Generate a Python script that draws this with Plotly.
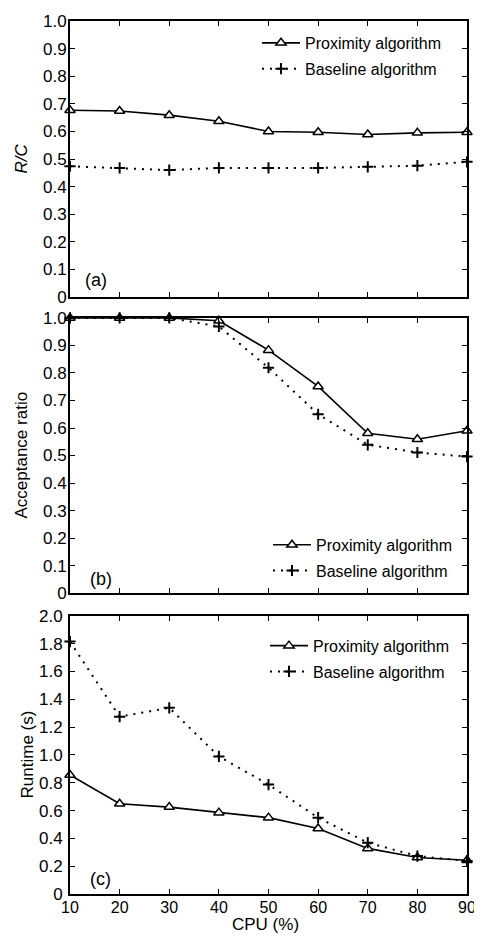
import plotly.graph_objects as go

cpu = [10, 20, 30, 40, 50, 60, 70, 80, 90]

rc_proximity = [0.677, 0.674, 0.659, 0.637, 0.600, 0.597, 0.589, 0.595, 0.597]
rc_baseline = [0.474, 0.468, 0.460, 0.468, 0.468, 0.468, 0.472, 0.476, 0.490]

acc_proximity = [1.0, 1.0, 1.0, 0.99, 0.883, 0.751, 0.581, 0.559, 0.590]
acc_baseline = [1.0, 1.0, 1.0, 0.969, 0.819, 0.650, 0.539, 0.511, 0.496]

rt_proximity = [0.856, 0.649, 0.625, 0.585, 0.549, 0.471, 0.328, 0.262, 0.243]
rt_baseline = [1.815, 1.275, 1.339, 0.989, 0.787, 0.549, 0.369, 0.273, 0.238]

names = ["Proximity algorithm", "Baseline algorithm"]
panel_labels = ["(a)", "(b)", "(c)"]
y_titles = ["<i>R/C</i>", "Acceptance ratio", "Runtime (s)"]
x_title = "CPU (%)"

FONT = "Liberation Sans, Arial, sans-serif"

# page offset of the figure inside the window (screen px)
OFFX, OFFY = 8, 12
W, H = 482, 943
PL, PR, PT, PB = 70, 467, 16, 898  # plot area in screen px

fig = go.Figure()

panels = [
    (rc_proximity, rc_baseline, "x", "y", "legend"),
    (acc_proximity, acc_baseline, "x2", "y2", "legend2"),
    (rt_proximity, rt_baseline, "x3", "y3", "legend3"),
]

for i, (prox, base, xa, ya, lg) in enumerate(panels):
    fig.add_trace(go.Scatter(
        x=cpu, y=prox, name=names[0], xaxis=xa, yaxis=ya, legend=lg,
        legendgroup=f"p{i}", mode="lines+markers",
        line=dict(color="black", width=1.6),
        marker=dict(symbol="triangle-up", size=9, color="white",
                    line=dict(color="black", width=1.5)),
        cliponaxis=False,
    ))
    fig.add_trace(go.Scatter(
        x=cpu, y=base, name=names[1], xaxis=xa, yaxis=ya, legend=lg,
        legendgroup=f"b{i}", mode="lines+markers",
        line=dict(color="black", width=2, dash="2px,6px"),
        marker=dict(symbol="cross-thin", size=8, color="black",
                    line=dict(color="black", width=2)),
        cliponaxis=False,
    ))

PH = PB - PT


def py(px):
    return (PB - px) / PH


def px_x(px):
    return (px - PL) / (PR - PL)


def dom(top_px, bot_px):
    return [py(bot_px), py(top_px)]


domains = [dom(16, 295), dom(316, 594), dom(617, 898)]

axis_common = dict(
    showline=True, linecolor="black", linewidth=1.8, mirror="allticks",
    ticks="inside", ticklen=5, tickwidth=1.3, tickcolor="black",
    showgrid=False, zeroline=False,
    tickfont=dict(family=FONT, size=17, color="black"),
)

layout = dict(
    width=W, height=H,
    margin=dict(l=PL - OFFX, r=W - (PR - OFFX), t=PT - OFFY, b=H - (PB - OFFY)),
    paper_bgcolor="white", plot_bgcolor="white",
    font=dict(family=FONT, size=16, color="black"),
)

y_ticks = [
    ([0, 0.1, 0.2, 0.3, 0.4, 0.5, 0.6, 0.7, 0.8, 0.9, 1.0],
     ["0", "0.1", "0.2", "0.3", "0.4", "0.5", "0.6", "0.7", "0.8", "0.9", "1.0"], [0, 1]),
    ([0, 0.1, 0.2, 0.3, 0.4, 0.5, 0.6, 0.7, 0.8, 0.9, 1.0],
     ["0", "0.1", "0.2", "0.3", "0.4", "0.5", "0.6", "0.7", "0.8", "0.9", "1.0"], [0, 1]),
    ([0, 0.2, 0.4, 0.6, 0.8, 1.0, 1.2, 1.4, 1.6, 1.8, 2.0],
     ["0", "0.2", "0.4", "0.6", "0.8", "1.0", "1.2", "1.4", "1.6", "1.8", "2.0"], [0, 2]),
]

for i in range(3):
    xk = "xaxis" if i == 0 else f"xaxis{i+1}"
    yk = "yaxis" if i == 0 else f"yaxis{i+1}"
    ya_ref = "y" if i == 0 else f"y{i+1}"
    xa_ref = "x" if i == 0 else f"x{i+1}"
    layout[xk] = dict(axis_common, domain=[0, 1], anchor=ya_ref, range=[10, 90],
                      tickvals=cpu, showticklabels=(i == 2), ticklabelstandoff=-2,
                      tickfont=dict(family=FONT, size=16, color="black"))
    tv, tt, rg = y_ticks[i]
    layout[yk] = dict(axis_common, domain=domains[i], anchor=xa_ref, range=rg,
                      tickvals=tv, ticktext=tt,
                      ticklabelstandoff=(2 if i == 2 else -2))

legend_common = dict(
    font=dict(family=FONT, size=16, color="black"),
    bgcolor="rgba(0,0,0,0)", borderwidth=0,
    traceorder="grouped", tracegroupgap=2, itemwidth=38,
    xanchor="left", yanchor="top",
)

layout["legend"] = dict(legend_common, x=px_x(257), y=py(21))
layout["legend2"] = dict(legend_common, x=px_x(268), y=py(528))
layout["legend3"] = dict(legend_common, x=px_x(265), y=py(630))

fig.update_layout(**layout)

label_pos = [(83, 278), (88, 580), (88, 883)]
for lbl, (lx, ly) in zip(panel_labels, label_pos):
    fig.add_annotation(text=lbl, xref="paper", yref="paper", x=px_x(lx), y=py(ly),
                       xanchor="left", yanchor="middle", showarrow=False,
                       font=dict(family=FONT, size=18, color="black"))

title_pos = [(22, 155), (22, 455), (27, 757)]
for t, (tx, ty) in zip(y_titles, title_pos):
    fig.add_annotation(text=t, xref="paper", yref="paper", x=px_x(tx), y=py(ty),
                       xanchor="center", yanchor="middle", showarrow=False, textangle=-90,
                       font=dict(family=FONT, size=17, color="black"))

fig.add_annotation(text=x_title, xref="paper", yref="paper", x=px_x(265), y=py(929),
                   xanchor="center", yanchor="middle", showarrow=False,
                   font=dict(family=FONT, size=17, color="black"))

fig.write_html("out.html")
